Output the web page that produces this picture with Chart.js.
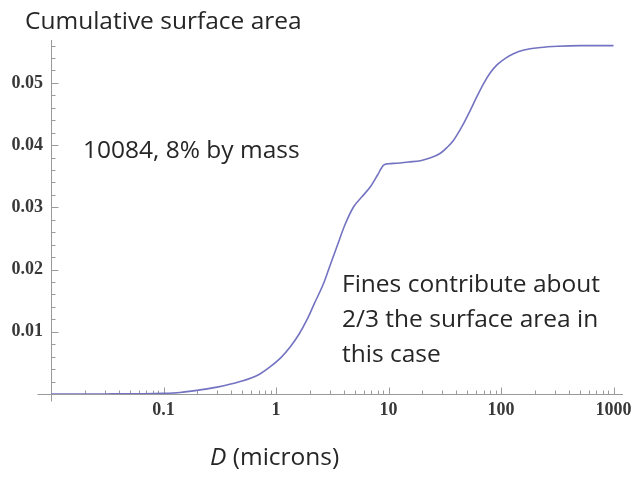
<!DOCTYPE html>
<html>
<head>
<meta charset="utf-8">
<title>Cumulative surface area</title>
<script src="https://cdn.jsdelivr.net/npm/chart.js@4.4.1/dist/chart.umd.min.js"></script>
<style>
    html, body { margin: 0; padding: 0; background: #fff; }
    #chart-box { width: 637px; height: 481px; }
</style>
</head>
<body>
<div id="chart-box"><canvas id="surfaceChart" width="637" height="481"></canvas></div>
<script>
// --- DATA ---

// particle diameter D (microns)
const diameters = [
    0.01, 0.03, 0.06, 0.1, 0.14, 0.2, 0.3, 0.48, 0.7, 0.89,
    1.1, 1.34, 1.6, 1.88, 2.2, 2.65, 3.0, 3.48, 4.1, 4.9,
    5.8, 6.9, 8.0, 9.05, 10, 11.9, 15, 19.2, 24, 28.9,
    33, 37.9, 45, 53.3, 61, 70, 80, 92, 110, 129,
    160, 224, 320, 507, 1000
];

// cumulative surface area up to D
const cumulativeArea = [
    0, 0.00001, 0.00003, 0.0001, 0.00025, 0.0006, 0.0011, 0.002, 0.0031, 0.0044,
    0.0058, 0.0076, 0.0096, 0.0119, 0.0146, 0.0178, 0.0205, 0.0237, 0.0272, 0.0301,
    0.0317, 0.0333, 0.0352, 0.0368, 0.0370, 0.0371, 0.0373, 0.0375, 0.0380, 0.0387,
    0.0396, 0.0408, 0.0430, 0.0456, 0.0478, 0.0499, 0.0516, 0.0529, 0.0540, 0.0547,
    0.0553, 0.0557, 0.0559, 0.0560, 0.0560
];

const xTickLabels = [0.1, 1, 10, 100, 1000];
const yTickLabels = [0.01, 0.02, 0.03, 0.04, 0.05];

const chartTitle = 'Cumulative surface area';
const massNote = '10084, 8% by mass';
const finesNote = ['Fines contribute about', '2/3 the surface area in', 'this case'];
const axisTitle = ['D', ' (microns)'];

// --- HELPERS ---

const mantissa = (v) => v / Math.pow(10, Math.floor(Math.log10(v) + 1e-9));
const isWhole = (v) => Math.abs(v - Math.round(v)) < 1e-6;
const isMajorY = (v) => yTickLabels.some(l => Math.abs(l - v) < 1e-9);
const isMajorX = (v) => xTickLabels.some(l => Math.abs(l - v) / l < 1e-9);

// Mathematica-style axes: thin grey lines with ticks pointing inward
const axesPlugin = {
    id: 'innerAxes',
    beforeDatasetsDraw(chart) {
        const { ctx, scales: { x, y } } = chart;
        const x0 = Math.round(x.getPixelForValue(x.min)) + 0.5;
        const y0 = Math.round(y.getPixelForValue(0)) + 0.5;
        ctx.save();
        ctx.strokeStyle = '#9a9a9a';
        ctx.lineWidth = 1;
        ctx.beginPath();
        ctx.moveTo(x0 - 14, y0);
        ctx.lineTo(x.right, y0);
        ctx.moveTo(x0, y.top);
        ctx.lineTo(x0, y0 + 7);

        y.ticks.forEach(t => {
            if (t.value <= 0) return;
            const py = Math.round(y.getPixelForValue(t.value)) + 0.5;
            ctx.moveTo(x0, py);
            ctx.lineTo(x0 + (isMajorY(t.value) ? 7 : 4), py);
        });

        x.ticks.forEach(t => {
            if (t.value <= x.min || t.value >= x.max) return;
            if (!isWhole(mantissa(t.value))) return; // skip the 1.5, 15, ... steps
            const px = Math.round(x.getPixelForValue(t.value)) + 0.5;
            ctx.moveTo(px, y0);
            ctx.lineTo(px, y0 - (isMajorX(t.value) ? 7 : 4));
        });
        ctx.stroke();
        ctx.restore();
    },
    afterDraw(chart) {
        const { ctx } = chart;
        ctx.save();
        ctx.fillStyle = '#262626';
        ctx.textBaseline = 'alphabetic';
        ctx.font = '24.5px "Open Sans"';
        ctx.fillText(chartTitle, 25, 29);
        ctx.fillText(massNote, 83, 158);
        finesNote.forEach((line, i) => ctx.fillText(line, 342, 292 + i * 35));

        ctx.font = 'italic 24.5px "Open Sans"';
        ctx.fillText(axisTitle[0], 210, 465);
        const dWidth = ctx.measureText(axisTitle[0]).width;
        ctx.font = '24.5px "Open Sans"';
        ctx.fillText(axisTitle[1], 210 + dWidth, 465);
        ctx.restore();
    }
};

document.addEventListener('DOMContentLoaded', () => {
    const ctx = document.getElementById('surfaceChart').getContext('2d');

    const tickFont = { family: '"Liberation Serif"', size: 18, weight: 'bold' };

    new Chart(ctx, {
        type: 'line',
        data: {
            datasets: [{
                label: 'Cumulative surface area',
                data: diameters.map((d, i) => ({ x: d, y: cumulativeArea[i] })),
                borderColor: '#7373c2',
                borderWidth: 1.6,
                pointRadius: 0,
                fill: false,
                cubicInterpolationMode: 'monotone'
            }]
        },
        options: {
            responsive: false,
            animation: false,
            devicePixelRatio: 1,
            layout: { padding: { top: 40, right: 14, left: 0, bottom: 0 } },
            plugins: {
                legend: { display: false },
                tooltip: { enabled: false }
            },
            scales: {
                x: {
                    type: 'logarithmic',
                    min: 0.01,
                    max: 1214,
                    grid: { display: false, drawTicks: false },
                    border: { display: false },
                    ticks: {
                        autoSkip: false,
                        maxRotation: 0,
                        padding: 6,
                        color: '#383838',
                        font: tickFont,
                        callback: (v) => isMajorX(v) ? String(v) : ''
                    },
                    afterFit: (s) => { s.height = 87; }
                },
                y: {
                    type: 'linear',
                    min: 0,
                    max: 0.0569,
                    grid: { display: false, drawTicks: false },
                    border: { display: false },
                    ticks: {
                        stepSize: 0.002,
                        includeBounds: false,
                        autoSkip: false,
                        padding: 8,
                        color: '#383838',
                        font: tickFont,
                        callback: (v) => isMajorY(v) ? v.toFixed(2) : ''
                    },
                    afterFit: (s) => { s.width = 51; }
                }
            }
        },
        plugins: [axesPlugin]
    });
});
</script>
</body>
</html>
